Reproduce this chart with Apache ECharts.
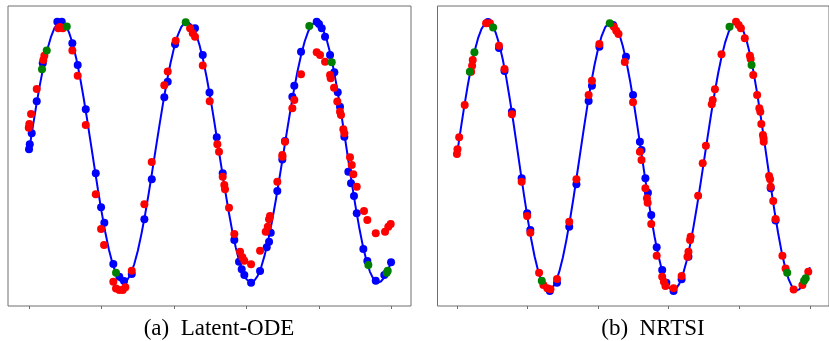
<!DOCTYPE html>
<html>
<head>
<meta charset="utf-8">
<script src="https://cdn.jsdelivr.net/npm/echarts@6/dist/echarts.min.js"></script>
<style>
  html, body { margin: 0; padding: 0; background: #fff; }
  #chart { width: 829px; height: 341px; }
</style>
</head>
<body>
<div id="chart"></div>
<script>
// ground truth curve (same in both panels)
const curveT = [0, 0.05, 0.1, 0.15, 0.2, 0.25, 0.3, 0.35, 0.4, 0.44, 0.5, 0.55, 0.6, 0.65, 0.7, 0.75, 0.8, 0.85, 0.9, 0.95,
  1.0, 1.05, 1.1, 1.15, 1.2, 1.25, 1.3, 1.35, 1.4, 1.45, 1.5, 1.55, 1.6, 1.65, 1.7, 1.75, 1.8, 1.85, 1.9, 1.95,
  2.0, 2.05, 2.1, 2.15, 2.18, 2.2, 2.25, 2.3, 2.35, 2.4, 2.45, 2.5, 2.55, 2.6, 2.65, 2.7, 2.75, 2.8, 2.85, 2.9, 2.95,
  3.0, 3.06, 3.1, 3.15, 3.2, 3.25, 3.3, 3.35, 3.4, 3.45, 3.5, 3.55, 3.6, 3.65, 3.7, 3.75, 3.8, 3.85, 3.9, 3.96,
  4.0, 4.05, 4.1, 4.15, 4.2, 4.25, 4.3, 4.35, 4.4, 4.45, 4.5, 4.55, 4.6, 4.65, 4.7, 4.75, 4.81, 4.85, 4.9, 4.95, 5.0];
const curveY = [0.01, 0.187, 0.358, 0.517, 0.659, 0.782, 0.879, 0.95, 0.99, 1.0, 0.976, 0.92, 0.834, 0.72, 0.582, 0.424, 0.253, 0.073, -0.109, -0.288,
  -0.457, -0.611, -0.745, -0.853, -0.934, -0.983, -1.0, -0.984, -0.937, -0.86, -0.756, -0.627, -0.479, -0.316, -0.142, 0.036, 0.213, 0.383, 0.541, 0.681,
  0.801, 0.895, 0.96, 0.994, 1.0, 0.997, 0.969, 0.91, 0.821, 0.707, 0.57, 0.415, 0.247, 0.071, -0.107, -0.282, -0.448, -0.6, -0.731, -0.841, -0.924,
  -0.977, -1.0, -0.99, -0.951, -0.883, -0.788, -0.669, -0.53, -0.375, -0.208, -0.035, 0.139, 0.309, 0.469, 0.616, 0.743, 0.848, 0.927, 0.978, 1.0,
  0.989, 0.945, 0.869, 0.763, 0.632, 0.479, 0.309, 0.129, -0.055, -0.238, -0.412, -0.572, -0.713, -0.829, -0.918, -0.975, -1.0, -0.992, -0.96, -0.905, -0.827];

// (a) Latent-ODE
const latentBlue = [[0.000,0.021],[0.010,0.060],[0.037,0.144],[0.106,0.390],[0.189,0.681],[0.390,1.000],[0.451,1.000],[0.597,0.834],[0.671,0.668],[0.782,0.328],
  [0.920,-0.163],[0.993,-0.423],[1.038,-0.541],[1.162,-0.858],[1.245,-0.956],[1.310,-0.989],[1.416,-0.935],[1.590,-0.515],[1.692,-0.209],
  [1.865,0.420],[1.912,0.540],[2.013,0.827],[2.288,0.949],[2.395,0.745],[2.488,0.457],[2.588,0.114],[2.670,-0.163],[2.830,-0.674],[2.895,-0.841],
  [2.932,-0.899],[2.968,-0.943],[3.061,-1.002],[3.185,-0.912],[3.277,-0.730],[3.309,-0.687],[3.332,-0.618],[3.423,-0.298],[3.492,-0.057],[3.529,0.085],
  [3.630,0.425],[3.657,0.509],[3.750,0.770],[3.966,1.000],[3.998,0.982],[4.035,0.949],[4.081,0.885],[4.150,0.745],[4.209,0.612],[4.256,0.459],
  [4.287,0.348],[4.347,0.118],[4.402,-0.150],[4.439,-0.239],[4.480,-0.337],[4.518,-0.469],[4.609,-0.743],[4.664,-0.835],[4.780,-0.986],[4.898,-0.943],[4.991,-0.845]];
const latentRed = [[-0.004,0.187],[0.004,0.216],[0.028,0.292],[0.106,0.484],[0.197,0.706],[0.211,0.739],[0.404,0.949],[0.427,0.959],[0.465,0.949],[0.597,0.778],
  [0.671,0.586],[0.782,0.208],[0.920,-0.324],[0.993,-0.590],[1.034,-0.712],[1.162,-0.994],[1.199,-1.045],[1.245,-1.058],[1.292,-1.058],[1.328,-1.037],
  [1.416,-0.910],[1.590,-0.400],[1.692,-0.076],[1.865,0.512],[1.912,0.617],[2.022,0.854],[2.220,0.949],[2.257,0.911],[2.288,0.885],[2.395,0.664],
  [2.491,0.390],[2.596,0.060],[2.619,0.003],[2.670,-0.189],[2.692,-0.252],[2.702,-0.285],[2.757,-0.426],[2.830,-0.628],[2.909,-0.764],[2.941,-0.807],
  [2.968,-0.833],[3.061,-0.860],[3.185,-0.756],[3.263,-0.610],[3.291,-0.572],[3.309,-0.515],[3.322,-0.490],[3.423,-0.227],[3.492,-0.022],[3.494,-0.035],
  [3.529,0.080],[3.630,0.336],[3.657,0.400],[3.750,0.597],[3.966,0.765],[4.012,0.745],[4.081,0.693],[4.150,0.591],[4.159,0.566],[4.205,0.494],
  [4.250,0.387],[4.287,0.310],[4.301,0.285],[4.333,0.175],[4.347,0.144],[4.425,-0.040],[4.449,-0.099],[4.471,-0.170],[4.518,-0.265],[4.618,-0.452],
  [4.664,-0.521],[4.780,-0.623],[4.908,-0.610],[4.953,-0.572],[4.986,-0.551]];
const latentGreen = [[0.179,0.635],[0.244,0.778],[0.520,0.962],[1.199,-0.925],[2.160,0.995],[3.864,0.967],[4.173,0.689],[4.678,-0.866],[4.931,-0.925],[4.945,-0.910]];

// (b) NRTSI
const nrtsiBlue = [[0.440,1.000],[0.596,0.806],[0.674,0.635],[0.779,0.332],[0.917,-0.165],[0.995,-0.425],[1.040,-0.550],[1.316,-1.004],[1.418,-0.943],
  [1.591,-0.525],[1.693,-0.209],[1.866,0.411],[1.913,0.525],[2.018,0.816],[2.213,0.978],[2.395,0.741],[2.495,0.456],[2.592,0.108],[2.615,0.046],
  [2.670,-0.165],[2.706,-0.272],[2.753,-0.438],[2.830,-0.679],[2.908,-0.848],[2.967,-0.943],[3.069,-1.004],[3.183,-0.917],[3.280,-0.749],
  [4.445,-0.239],[4.514,-0.479]];
const nrtsiRed = [[0.000,0.016],[0.008,0.051],[0.032,0.141],[0.110,0.382],[0.201,0.630],[0.215,0.674],[0.224,0.717],[0.413,0.990],[0.468,0.990],[0.596,0.823],
  [0.674,0.650],[0.779,0.312],[0.917,-0.190],[0.995,-0.446],[1.040,-0.570],[1.164,-0.868],[1.225,-0.960],[1.280,-0.984],[1.325,-0.992],[1.418,-0.915],
  [1.591,-0.488],[1.693,-0.172],[1.866,0.456],[1.913,0.563],[2.018,0.836],[2.224,0.965],[2.257,0.935],[2.289,0.911],[2.378,0.702],[2.495,0.402],
  [2.592,0.034],[2.615,-0.028],[2.670,-0.239],[2.692,-0.314],[2.702,-0.346],[2.753,-0.505],[2.830,-0.741],[2.908,-0.898],[2.932,-0.935],[2.954,-0.967],
  [3.069,-0.984],[3.183,-0.893],[3.266,-0.749],[3.280,-0.712],[3.303,-0.624],[3.311,-0.600],[3.417,-0.294],[3.482,-0.053],[3.527,0.078],[3.610,0.387],
  [3.624,0.419],[3.655,0.499],[3.748,0.759],[3.954,1.002],[3.991,0.978],[4.023,0.953],[4.078,0.879],[4.151,0.749],[4.161,0.724],[4.198,0.605],
  [4.253,0.456],[4.284,0.357],[4.298,0.332],[4.312,0.240],[4.335,0.158],[4.344,0.133],[4.346,0.108],[4.422,-0.148],[4.436,-0.172],[4.445,-0.227],
  [4.481,-0.334],[4.514,-0.468],[4.611,-0.741],[4.656,-0.837],[4.770,-0.993],[4.894,-0.960],[4.977,-0.861]];
const nrtsiGreen = [[0.183,0.630],[0.248,0.774],[0.513,0.958],[1.202,-0.928],[2.165,0.990],[3.862,0.965],[4.174,0.680],[4.679,-0.868],[4.918,-0.928],[4.941,-0.910]];

const tickValues = [0, 1, 2, 3, 4, 5];
const captions = ["(a)  Latent-ODE", "(b)  NRTSI"];

const chart = echarts.init(document.getElementById("chart"), null, { renderer: "canvas" });
const curve = curveT.map((t, i) => [t, curveY[i]]);
const frame = "#6e6e6e";

const xAxisOf = (gridIndex, min, max) => ({
  type: "value", gridIndex, min, max, position: "bottom",
  axisLine: { show: false, onZero: false },
  axisTick: { show: true, inside: false, length: 3, customValues: tickValues, lineStyle: { color: frame, width: 1 } },
  axisLabel: { show: false },
  splitLine: { show: false },
});
const yAxisOf = (gridIndex, min, max) => ({
  type: "value", gridIndex, min, max,
  axisLine: { show: false, onZero: false }, axisTick: { show: false }, axisLabel: { show: false }, splitLine: { show: false },
});
const dots = (i, data, color, z) => ({
  type: "scatter", xAxisIndex: i, yAxisIndex: i, data, symbolSize: 8, z,
  itemStyle: { color, opacity: 1 }, silent: true,
});

chart.setOption({
  animation: false,
  backgroundColor: "#fff",
  grid: [
    { left: 8, top: 6, width: 403, height: 300, show: true, borderColor: frame, borderWidth: 1, backgroundColor: "#fff" },
    { left: 437.5, top: 6, width: 403, height: 300, show: true, borderColor: frame, borderWidth: 1, backgroundColor: "#fff" },
  ],
  xAxis: [xAxisOf(0, -0.29, 5.266), xAxisOf(1, -0.275, 5.271)],
  yAxis: [yAxisOf(0, -1.18, 1.12), yAxisOf(1, -1.116, 1.119)],
  series: [
    { type: "line", xAxisIndex: 0, yAxisIndex: 0, data: curve, showSymbol: false, lineStyle: { color: "#0000ff", width: 2 }, z: 1, silent: true },
    dots(0, latentBlue, "#0000ff", 2),
    dots(0, latentRed, "#ff0000", 3),
    dots(0, latentGreen, "#008000", 4),
    { type: "line", xAxisIndex: 1, yAxisIndex: 1, data: curve, showSymbol: false, lineStyle: { color: "#0000ff", width: 2 }, z: 1, silent: true },
    dots(1, nrtsiBlue, "#0000ff", 2),
    dots(1, nrtsiRed, "#ff0000", 3),
    dots(1, nrtsiGreen, "#008000", 4),
  ],
  graphic: [
    { type: "text", x: 219, y: 329, style: { text: captions[0], font: "23px 'Liberation Serif'", fill: "#000", textAlign: "center", textVerticalAlign: "middle" } },
    { type: "text", x: 653, y: 329, style: { text: captions[1], font: "23px 'Liberation Serif'", fill: "#000", textAlign: "center", textVerticalAlign: "middle" } },
  ],
});
</script>
</body>
</html>
